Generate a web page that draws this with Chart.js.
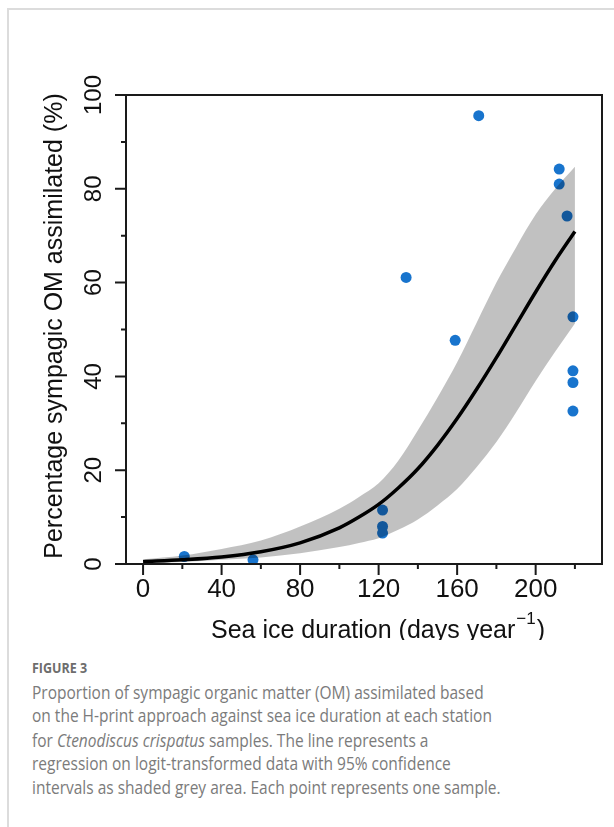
<!DOCTYPE html>
<html>
<head>
<meta charset="utf-8">
<script src="https://cdn.jsdelivr.net/npm/chart.js@4.4.1/dist/chart.umd.min.js"></script>
<style>
	body { margin: 0; background: #fff; width: 614px; height: 827px; overflow: hidden; position: relative; }
	.frame { position: absolute; left: 7px; top: 8px; right: -2px; bottom: -2px; border-top: 2px solid #dcdcdc; border-left: 2px solid #dcdcdc; }
	#chart { position: absolute; left: 0; top: 0; }
	.caption { position: absolute; left: 32px; top: 658px; font-family: 'Open Sans', sans-serif; color: #7b7b7b; white-space: nowrap; transform: scaleY(1.15); transform-origin: 0 0; }
	.caption .fig { font-weight: bold; font-size: 12.5px; color: #6d6d6d; }
	.caption .txt { font-size: 15.5px; line-height: 20.4px; margin-top: 3px; }
</style>
</head>
<body>
<div class="frame"></div>
<canvas id="chart" width="614" height="640"></canvas>
<div class="caption">
	<div class="fig">FIGURE 3</div>
	<div class="txt">Proportion of sympagic organic matter (OM) assimilated based<br>on the H-print approach against sea ice duration at each station<br>for <i>Ctenodiscus crispatus</i> samples. The line represents a<br>regression on logit-transformed data with 95% confidence<br>intervals as shaded grey area. Each point represents one sample.</div>
</div>
<script>
// samples (sea ice days, % sympagic OM)
const sampleDays = [21, 56, 122, 122, 122, 134, 159, 171, 212, 212, 216, 219, 219, 219, 219];
const samplePct = [1.6, 0.9, 11.5, 8.0, 6.6, 61.1, 47.7, 95.6, 84.2, 81.0, 74.2, 52.7, 41.2, 38.7, 32.6];

// regression line and 95% band
const fitDays = [0, 20, 40, 60, 80, 100, 110, 120, 130, 140, 150, 160, 170, 180, 190, 200, 210, 220];
const fitPct = [0.5, 0.9, 1.5, 2.6, 4.5, 7.7, 10.0, 12.7, 16.2, 20.3, 25.3, 31, 37.3, 44, 51, 58, 64.7, 70.9];
const upperPct = [1.0, 1.8, 3.2, 5.0, 8.0, 11.8, 14.3, 17.2, 22, 28.5, 35.5, 43, 51.5, 60, 67.5, 74.5, 80, 84.7];
const lowerPct = [0.2, 0.45, 0.9, 1.4, 2.3, 3.6, 4.5, 5.5, 7.3, 9.5, 12.5, 16, 20.7, 26, 32.3, 39, 45.3, 51.3];

// axis ticks
const xTicks = [0, 40, 80, 120, 160, 200];
const xMinor = [20, 60, 100, 140, 180, 220];
const yTicks = [0, 20, 40, 60, 80, 100];
const yMinor = [10, 30, 50, 70, 90];

const pts = (xs, ys) => xs.map((x, i) => ({ x: x, y: ys[i] }));

const FONT = '"Liberation Sans", Arial, sans-serif';

// R style box, ticks and labels
const rAxes = {
	id: 'rAxes',
	afterDraw(chart) {
		const ctx = chart.ctx;
		const a = chart.chartArea;
		const xs = chart.scales.x;
		const ys = chart.scales.y;
		ctx.save();
		ctx.strokeStyle = '#1a1a1a';
		ctx.lineWidth = 2;
		ctx.strokeRect(a.left, a.top, a.right - a.left, a.bottom - a.top);
		ctx.beginPath();
		xTicks.forEach(v => { const p = xs.getPixelForValue(v); ctx.moveTo(p, a.bottom); ctx.lineTo(p, a.bottom + 11); });
		xMinor.forEach(v => { const p = xs.getPixelForValue(v); ctx.moveTo(p, a.bottom); ctx.lineTo(p, a.bottom + 5); });
		yTicks.forEach(v => { const p = ys.getPixelForValue(v); ctx.moveTo(a.left, p); ctx.lineTo(a.left - 11, p); });
		yMinor.forEach(v => { const p = ys.getPixelForValue(v); ctx.moveTo(a.left, p); ctx.lineTo(a.left - 5, p); });
		ctx.stroke();

		ctx.fillStyle = '#111';
		ctx.font = '26px ' + FONT;
		ctx.textAlign = 'center';
		ctx.textBaseline = 'alphabetic';
		xTicks.forEach(v => ctx.fillText(String(v), xs.getPixelForValue(v), 597));

		ctx.font = '24px ' + FONT;
		yTicks.forEach(v => {
			ctx.save();
			ctx.translate(101, ys.getPixelForValue(v));
			ctx.rotate(-Math.PI / 2);
			ctx.fillText(String(v), 0, 0);
			ctx.restore();
		});

		// y title
		ctx.save();
		ctx.font = '25px ' + FONT;
		ctx.translate(62, 326);
		ctx.rotate(-Math.PI / 2);
		ctx.fillText('Percentage sympagic OM assimilated (%)', 0, 0);
		ctx.restore();

		// x title with superscript
		ctx.textAlign = 'left';
		const main = 'Sea ice duration (days year';
		const sup = '\u22121';
		ctx.font = '25px ' + FONT;
		const w1 = ctx.measureText(main).width;
		const w3 = ctx.measureText(')').width;
		ctx.font = '17px ' + FONT;
		const w2 = ctx.measureText(sup).width;
		let x0 = 378 - (w1 + w2 + w3 + 2) / 2;
		ctx.font = '25px ' + FONT;
		ctx.fillText(main, x0, 638);
		ctx.font = '17px ' + FONT;
		ctx.fillText(sup, x0 + w1 + 1, 624);
		ctx.font = '25px ' + FONT;
		ctx.fillText(')', x0 + w1 + w2 + 2, 638);
		ctx.restore();
	}
};

new Chart(document.getElementById('chart'), {
	type: 'scatter',
	data: {
		datasets: [
			{
				type: 'line',
				data: pts(fitDays, upperPct),
				borderWidth: 0,
				pointRadius: 0,
				backgroundColor: 'rgba(0,0,0,0.245)',
				fill: '+1',
				cubicInterpolationMode: 'monotone',
				order: 2,
			},
			{
				type: 'line',
				data: pts(fitDays, lowerPct),
				borderWidth: 0,
				pointRadius: 0,
				fill: false,
				cubicInterpolationMode: 'monotone',
				order: 2,
			},
			{
				type: 'line',
				data: pts(fitDays, fitPct),
				borderColor: '#000',
				borderWidth: 3.5,
				pointRadius: 0,
				fill: false,
				cubicInterpolationMode: 'monotone',
				order: 1,
			},
			{
				data: pts(sampleDays, samplePct),
				backgroundColor: '#1874cd',
				borderWidth: 0,
				pointRadius: 5.5,
				order: 3,
			},
		],
	},
	options: {
		responsive: false,
		animation: false,
		devicePixelRatio: 1,
		layout: { padding: { left: 126, top: 95, right: 12, bottom: 76 } },
		scales: {
			x: { type: 'linear', min: -8.7, max: 233.8, display: false },
			y: { type: 'linear', min: 0, max: 100, display: false },
		},
		plugins: {
			legend: { display: false },
			tooltip: { enabled: false },
		},
	},
	plugins: [rAxes],
});
</script>
</body>
</html>
